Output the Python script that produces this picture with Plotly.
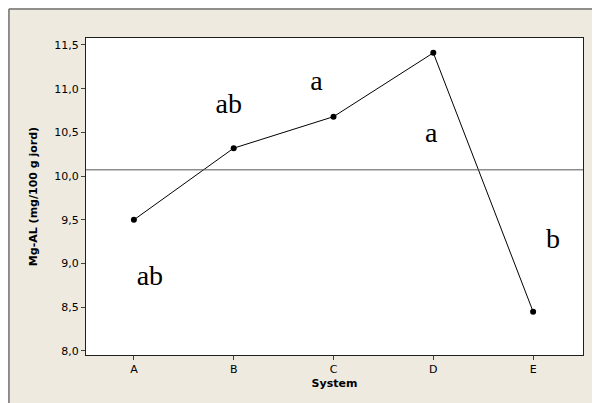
import plotly.graph_objects as go

systems = ["A", "B", "C", "D", "E"]
mg_al = [9.50, 10.32, 10.68, 11.41, 8.45]

# letters from the group comparison, placed by hand
letter_text = ["ab", "ab", "a", "a", "b"]
letter_x = [0.16, 0.95, 1.83, 2.98, 4.20]
letter_y = [8.83, 10.80, 11.07, 10.47, 9.26]

y_ticks = [8.0, 8.5, 9.0, 9.5, 10.0, 10.5, 11.0, 11.5]

mean_val = sum(mg_al) / len(mg_al)
x_pos = list(range(len(systems)))

fig = go.Figure()
fig.add_trace(go.Scatter(
    x=x_pos, y=mg_al, mode="lines+markers",
    line=dict(color="black", width=1),
    marker=dict(color="black", size=6),
    showlegend=False, hoverinfo="skip"
))
fig.add_trace(go.Scatter(
    x=letter_x, y=letter_y, mode="text", text=letter_text,
    textfont=dict(family="Liberation Serif", size=28, color="black"),
    showlegend=False, hoverinfo="skip"
))

fig.add_hline(y=mean_val, line=dict(color="#555555", width=1))

# outer frame of the graph window (left and top edges)
fig.add_shape(type="line", xref="paper", yref="paper",
              x0=-0.155, y0=-0.16, x1=-0.155, y1=1.0915,
              line=dict(color="#707070", width=1.5))
fig.add_shape(type="line", xref="paper", yref="paper",
              x0=-0.155, y0=1.0915, x1=1.05, y1=1.0915,
              line=dict(color="#707070", width=1.5))

fig.update_xaxes(
    tickvals=x_pos, ticktext=systems, range=[-0.48, 4.5],
    showgrid=False, zeroline=False, automargin=False,
    showline=True, mirror=True, linecolor="#202020", linewidth=1,
    ticks="outside", ticklen=4, tickcolor="#404040",
    tickfont=dict(family="DejaVu Sans", size=11, color="black"),
    title=dict(text="<b>System</b>", standoff=4,
               font=dict(family="DejaVu Sans", size=11, color="black"))
)
fig.update_yaxes(
    tickvals=y_ticks, tickformat=".1f", range=[7.954, 11.58],
    showgrid=False, zeroline=False, automargin=False,
    showline=True, mirror=True, linecolor="#202020", linewidth=1,
    ticks="outside", ticklen=4, tickcolor="#404040",
    tickfont=dict(family="DejaVu Sans", size=11, color="black"),
    title=dict(text="<b>Mg-AL (mg/100 g jord)</b>", standoff=14,
               font=dict(family="DejaVu Sans", size=11, color="black"))
)

# page body has an 8px margin, so the figure is sized to fill the rest
fig.update_layout(
    width=592, height=395,
    margin=dict(l=78, r=17, t=30, b=48),
    paper_bgcolor="#EEEAE0", plot_bgcolor="white",
    separators=", ",
)

fig.write_html("out.html")
